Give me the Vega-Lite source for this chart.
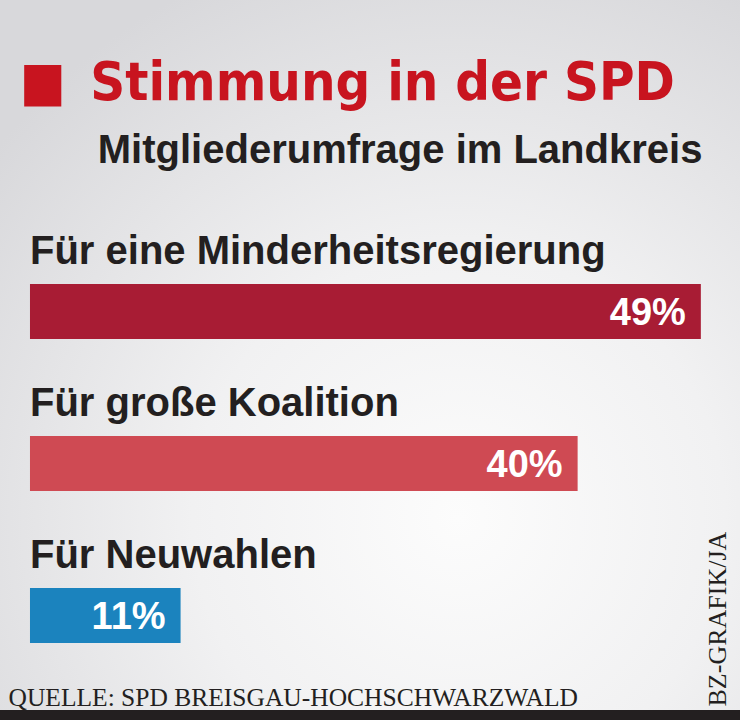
{
  "$schema": "https://vega.github.io/schema/vega-lite/v6.json",
  "width": 740,
  "height": 710,
  "autosize": {"type": "none"},
  "padding": {"left": 0, "top": 0, "right": 0, "bottom": 10},
  "background": "#231f20",
  "config": {
    "view": {
      "stroke": null,
      "fill": {
        "gradient": "radial",
        "x1": 0.62, "y1": 0.72, "r1": 0,
        "x2": 0.62, "y2": 0.72, "r2": 0.8,
        "stops": [
          {"offset": 0, "color": "#fcfcfc"},
          {"offset": 0.45, "color": "#f1f1f2"},
          {"offset": 1, "color": "#d8d8db"}
        ]
      }
    }
  },
  "title": {
    "text": "■\u2002Stimmung in der SPD",
    "subtitle": "\u200b\u00a0\u00a0\u00a0\u00a0\u00a0\u00a0\u00a0Mitgliederumfrage im Landkreis",
    "anchor": "start",
    "frame": "group",
    "orient": "top",
    "dx": 20,
    "offset": -171,
    "font": "DejaVu Sans Condensed",
    "fontSize": 54,
    "fontWeight": "bold",
    "color": "#c8141f",
    "subtitleFont": "Liberation Sans",
    "subtitleFontSize": 40,
    "subtitleFontWeight": "bold",
    "subtitleColor": "#231f20",
    "subtitlePadding": 20
  },
  "data": {
    "values": [
      {"category": "Für eine Minderheitsregierung", "share": 0.49},
      {"category": "Für große Koalition", "share": 0.40},
      {"category": "Für Neuwahlen", "share": 0.11}
    ]
  },
  "encoding": {
    "y": {
      "field": "category",
      "type": "nominal",
      "scale": {
        "domain": [" ", "Für eine Minderheitsregierung", "Für große Koalition", "Für Neuwahlen"],
        "paddingInner": 0.638,
        "paddingOuter": 0.6545,
        "align": 0.663
      },
      "axis": {
        "orient": "right",
        "title": "BZ-GRAFIK/JA",
        "labels": false,
        "ticks": false,
        "domain": false,
        "grid": false,
        "titleAngle": 270,
        "titleAlign": "left",
        "titleBaseline": "alphabetic",
        "titleX": -15,
        "titleY": 706,
        "titleFont": "Liberation Serif",
        "titleFontSize": 26,
        "titleFontWeight": "normal",
        "titleColor": "#231f20"
      }
    },
    "x": {
      "field": "share",
      "type": "quantitative",
      "scale": {"domain": [-0.0219, 0.5186], "nice": false, "zero": false},
      "axis": {
        "orient": "bottom",
        "title": "QUELLE: SPD BREISGAU-HOCHSCHWARZWALD",
        "labels": false,
        "ticks": false,
        "domain": false,
        "grid": false,
        "titleAnchor": "start",
        "titleAlign": "left",
        "titleBaseline": "alphabetic",
        "titleX": 8,
        "titleY": -5,
        "titleFont": "Liberation Serif",
        "titleFontSize": 25.5,
        "titleFontWeight": "normal",
        "titleColor": "#231f20"
      }
    }
  },
  "layer": [
    {
      "mark": {"type": "bar"},
      "encoding": {
        "x2": {"datum": 0},
        "color": {
          "field": "category",
          "type": "nominal",
          "scale": {
            "domain": ["Für eine Minderheitsregierung", "Für große Koalition", "Für Neuwahlen"],
            "range": ["#a81c34", "#cf4a53", "#1b83be"]
          },
          "legend": null
        }
      }
    },
    {
      "mark": {
        "type": "text",
        "align": "right",
        "baseline": "alphabetic",
        "dx": -15,
        "dy": 14,
        "font": "Liberation Sans",
        "fontSize": 38,
        "fontWeight": "bold",
        "color": "#ffffff"
      },
      "encoding": {
        "text": {"field": "share", "type": "quantitative", "format": ".0%"}
      }
    },
    {
      "mark": {
        "type": "text",
        "align": "left",
        "baseline": "alphabetic",
        "dy": -47,
        "font": "Liberation Sans",
        "fontSize": 40,
        "fontWeight": "bold",
        "color": "#231f20"
      },
      "encoding": {
        "x": {"datum": 0},
        "text": {"field": "category", "type": "nominal"}
      }
    }
  ]
}
